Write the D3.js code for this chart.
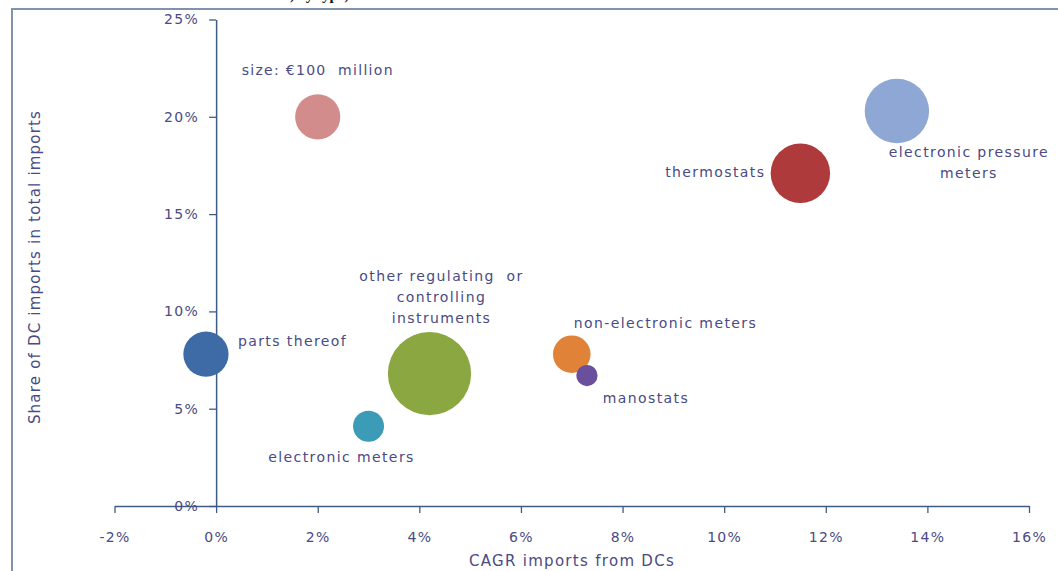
<!DOCTYPE html>
<html>
<head>
<meta charset="utf-8">
<script src="https://cdn.jsdelivr.net/npm/d3@7"></script>
<style>
	html, body { margin: 0; padding: 0; background: #fff; }
	svg { display: block; }
	text { font-family: "DejaVu Sans", Verdana, sans-serif; }
</style>
</head>
<body>
<div id="chart"></div>
<script>
// data
var products = ["electronic pressure meters", "thermostats", "other regulating or controlling instruments",
	"parts thereof", "non-electronic meters", "manostats", "electronic meters"];
var cagr = [13.4, 11.5, 4.2, -0.2, 7.0, 7.3, 3.0];          // % CAGR imports from DCs
var share = [20.3, 17.1, 6.8, 7.8, 7.8, 6.7, 4.1];          // % share of DC imports
var importValue = [203, 173, 339, 100, 69, 22, 47];         // € million (bubble size)
var colors = ["#8fa7d4", "#ae3a3b", "#8aa742", "#3e6aa5", "#e08238", "#6a4f9c", "#3c9bb7"];

var legendCagr = 2, legendShare = 20, legendValue = 100;
var legendText = "size: €100  million";

var xTicks = [-2, 0, 2, 4, 6, 8, 10, 12, 14, 16];
var yTicks = [0, 5, 10, 15, 20, 25];

// label placement relative to bubble centre (px): lines, dx, first baseline dy, anchor
var labelLayout = {
	"electronic pressure meters": {lines: ["electronic pressure", "meters"], dx: 72, dy: 46, anchor: "middle"},
	"thermostats": {lines: ["thermostats"], dx: -35, dy: 4, anchor: "end"},
	"other regulating or controlling instruments": {lines: ["other regulating  or", "controlling", "instruments"], dx: 12, dy: -93, anchor: "middle"},
	"parts thereof": {lines: ["parts thereof"], dx: 32, dy: -8, anchor: "start"},
	"non-electronic meters": {lines: ["non-electronic meters"], dx: 2, dy: -26, anchor: "start"},
	"manostats": {lines: ["manostats"], dx: 59, dy: 27, anchor: "middle"},
	"electronic meters": {lines: ["electronic meters"], dx: -27, dy: 36, anchor: "middle"}
};

var W = 1058, H = 571;
var textColor = "#4a4a84";
var axisColor = "#3f5d84";

var svg = d3.select("#chart").append("svg")
	.attr("width", W)
	.attr("height", H);

svg.append("rect")
	.attr("width", W)
	.attr("height", H)
	.attr("fill", "#ffffff");

// cut-off caption above the frame
svg.append("text")
	.attr("x", 290)
	.attr("y", 0)
	.attr("font-family", "Liberation Serif")
	.attr("font-weight", "bold")
	.attr("font-size", 15)
	.attr("fill", "#111")
	.style("font-family", "'Liberation Serif', serif")
	.text(", by type,");

// outer frame
svg.append("rect")
	.attr("x", 12)
	.attr("y", 9)
	.attr("width", W + 20)
	.attr("height", H + 20)
	.attr("fill", "none")
	.attr("stroke", "#7f93aa")
	.attr("stroke-width", 2);

var x = d3.scaleLinear().domain([-2, 16]).range([114.5, 1029]);
var y = d3.scaleLinear().domain([0, 25]).range([506, 19.5]);
var r = d3.scaleSqrt().domain([0, 100]).range([0, 22.6]);

var pct = function(d){ return d + "%"; };

// x axis along the 0% line
var gx = svg.append("g")
	.attr("transform", "translate(0," + y(0) + ")")
	.call(d3.axisBottom(x).tickValues(xTicks).tickFormat(pct).tickSize(7).tickSizeOuter(0).tickPadding(19));

// y axis at 0% CAGR
var gy = svg.append("g")
	.attr("transform", "translate(" + x(0) + ",0)")
	.call(d3.axisLeft(y).tickValues(yTicks).tickFormat(pct).tickSize(7).tickSizeOuter(0).tickPadding(10));

[gx, gy].forEach(function(g){
	g.select(".domain").attr("stroke", axisColor).attr("stroke-width", 1.5);
	g.selectAll(".tick line").attr("stroke", axisColor).attr("stroke-width", 1.3);
	g.selectAll(".tick text")
		.attr("fill", textColor)
		.attr("font-size", 14)
		.style("letter-spacing", "1.3px")
		.style("font-family", "'DejaVu Sans', sans-serif");
});

// axis titles
svg.append("text")
	.attr("x", 572)
	.attr("y", 566)
	.attr("text-anchor", "middle")
	.attr("font-size", 15)
	.attr("fill", textColor)
	.style("letter-spacing", "1.3px")
	.text("CAGR imports from DCs");

svg.append("text")
	.attr("transform", "translate(40,267) rotate(-90)")
	.attr("text-anchor", "middle")
	.attr("font-size", 15)
	.attr("fill", textColor)
	.style("letter-spacing", "1.2px")
	.text("Share of DC imports in total imports");

// bubbles
var data = products.map(function(p, i){
	return {name: p, cagr: cagr[i], share: share[i], value: importValue[i], color: colors[i]};
});

svg.append("g").selectAll("circle")
	.data(data)
	.enter().append("circle")
	.attr("cx", function(d){ return x(d.cagr); })
	.attr("cy", function(d){ return y(d.share); })
	.attr("r", function(d){ return r(d.value); })
	.attr("fill", function(d){ return d.color; });

// labels
var labels = svg.append("g")
	.selectAll("text")
	.data(data)
	.enter().append("text")
	.attr("font-size", 14)
	.attr("fill", textColor)
	.style("letter-spacing", "1.4px")
	.attr("text-anchor", function(d){ return labelLayout[d.name].anchor; });

labels.each(function(d){
	var lay = labelLayout[d.name];
	var cx = x(d.cagr), cy = y(d.share);
	d3.select(this).selectAll("tspan")
		.data(lay.lines)
		.enter().append("tspan")
		.attr("x", cx + lay.dx)
		.attr("y", function(t, i){ return cy + lay.dy + i * 21; })
		.style("white-space", "pre")
		.text(function(t){ return t; });
});

// size legend bubble
svg.append("circle")
	.attr("cx", x(legendCagr))
	.attr("cy", y(legendShare))
	.attr("r", r(legendValue))
	.attr("fill", "#d28c8c");

svg.append("text")
	.attr("x", x(legendCagr))
	.attr("y", y(legendShare) - 42)
	.attr("text-anchor", "middle")
	.attr("font-size", 14)
	.attr("fill", textColor)
	.style("letter-spacing", "1.3px")
	.style("white-space", "pre")
	.text(legendText);
</script>
</body>
</html>
